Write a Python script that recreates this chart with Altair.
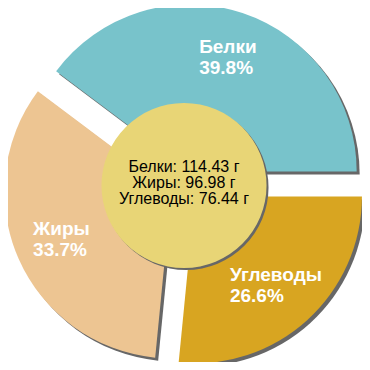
import altair as alt
import pandas as pd

names = ["Белки", "Жиры", "Углеводы"]
grams = [114.43, 96.98, 76.44]
draw_order = [3, 2, 1]
colors = ["#78c3cb", "#edc592", "#d8a521"]

df = pd.DataFrame({"name": names, "g": grams, "ord": draw_order})

CX, CY = 177, 177.5   # pie centre (px)
D = 14.8              # explode distance
R = 167               # outer radius
L = 120               # label distance from slice centre
FS = 19               # label font size
LH = 21               # label line height
SH = 3                # shadow offset

base = (
    alt.Chart(df)
    .transform_joinaggregate(total="sum(g)")
    .transform_window(cum="sum(g)", sort=[alt.SortField("ord")], frame=[None, 0])
    .transform_calculate(t1="PI/2 + 2*PI*datum.cum/datum.total")
    .transform_calculate(t0="datum.t1 - 2*PI*datum.g/datum.total")
    .transform_calculate(mid="(datum.t0 + datum.t1)/2")
    .transform_calculate(ex=f"{CX} + {D}*sin(datum.mid)")
    .transform_calculate(ey=f"{CY} - {D}*cos(datum.mid)")
    .transform_calculate(sx=f"datum.ex + {SH}", sy=f"datum.ey + {SH}")
    .transform_calculate(pcts="format(100*datum.g/datum.total, '.1f') + '%'")
    .transform_calculate(label="datum.name + '\\n' + datum.pcts")
    .transform_calculate(
        lx=f"datum.ex + {L}*sin(datum.mid) - {0.3*FS}*max(length(datum.name), length(datum.pcts))",
        ly=f"datum.ey - {L}*cos(datum.mid) - {LH/2}",
    )
)

theta = alt.Theta("t0:Q", scale=None)
theta2 = alt.Theta2("t1:Q")

shadow = base.mark_arc(radius=R, color="#676767").encode(
    x=alt.X("sx:Q", scale=None, axis=None),
    y=alt.Y("sy:Q", scale=None, axis=None),
    theta=theta, theta2=theta2,
)

slices = base.mark_arc(radius=R).encode(
    x=alt.X("ex:Q", scale=None, axis=None),
    y=alt.Y("ey:Q", scale=None, axis=None),
    theta=theta, theta2=theta2,
    color=alt.Color("name:N", scale=alt.Scale(domain=names, range=colors), legend=None),
)

labels = base.mark_text(
    align="left", baseline="middle", lineBreak="\n", fontSize=FS, fontWeight="bold",
    font="Liberation Sans", color="white", lineHeight=LH,
).encode(
    x=alt.X("lx:Q", scale=None, axis=None),
    y=alt.Y("ly:Q", scale=None, axis=None),
    text="label:N",
)

circle_df = pd.DataFrame({"k": [0]})
cshadow = alt.Chart(circle_df).mark_arc(radius=82.5, theta=0, theta2=6.2832, color="#676767").encode(
    x=alt.value(176 + 2), y=alt.value(177.5 + 2)
)
ccircle = alt.Chart(circle_df).mark_arc(radius=82.5, theta=0, theta2=6.2832, color="#e8d576").encode(
    x=alt.value(176), y=alt.value(177.5)
)

# centre text: one multi-line text built from the data
center_expr = " + '\\n' + ".join(
    f"'{n}: ' + format(datum['{n}'], '.2f') + ' г'" for n in names
)
ctext = (
    alt.Chart(df)
    .transform_pivot("name", value="g")
    .transform_calculate(ctext=center_expr)
    .mark_text(
        align="center", baseline="middle", lineBreak="\n", fontSize=16, lineHeight=16,
        font="Liberation Sans", color="black",
    )
    .encode(x=alt.value(176), y=alt.value(159), text="ctext:N")
)

chart = (
    alt.layer(shadow, slices, labels, cshadow, ccircle, ctext)
    .properties(width=354, height=354, autosize="none", padding=0)
    .configure_view(stroke=None)
)

chart.save("out.html", embed_options={"renderer": "svg", "actions": False})
